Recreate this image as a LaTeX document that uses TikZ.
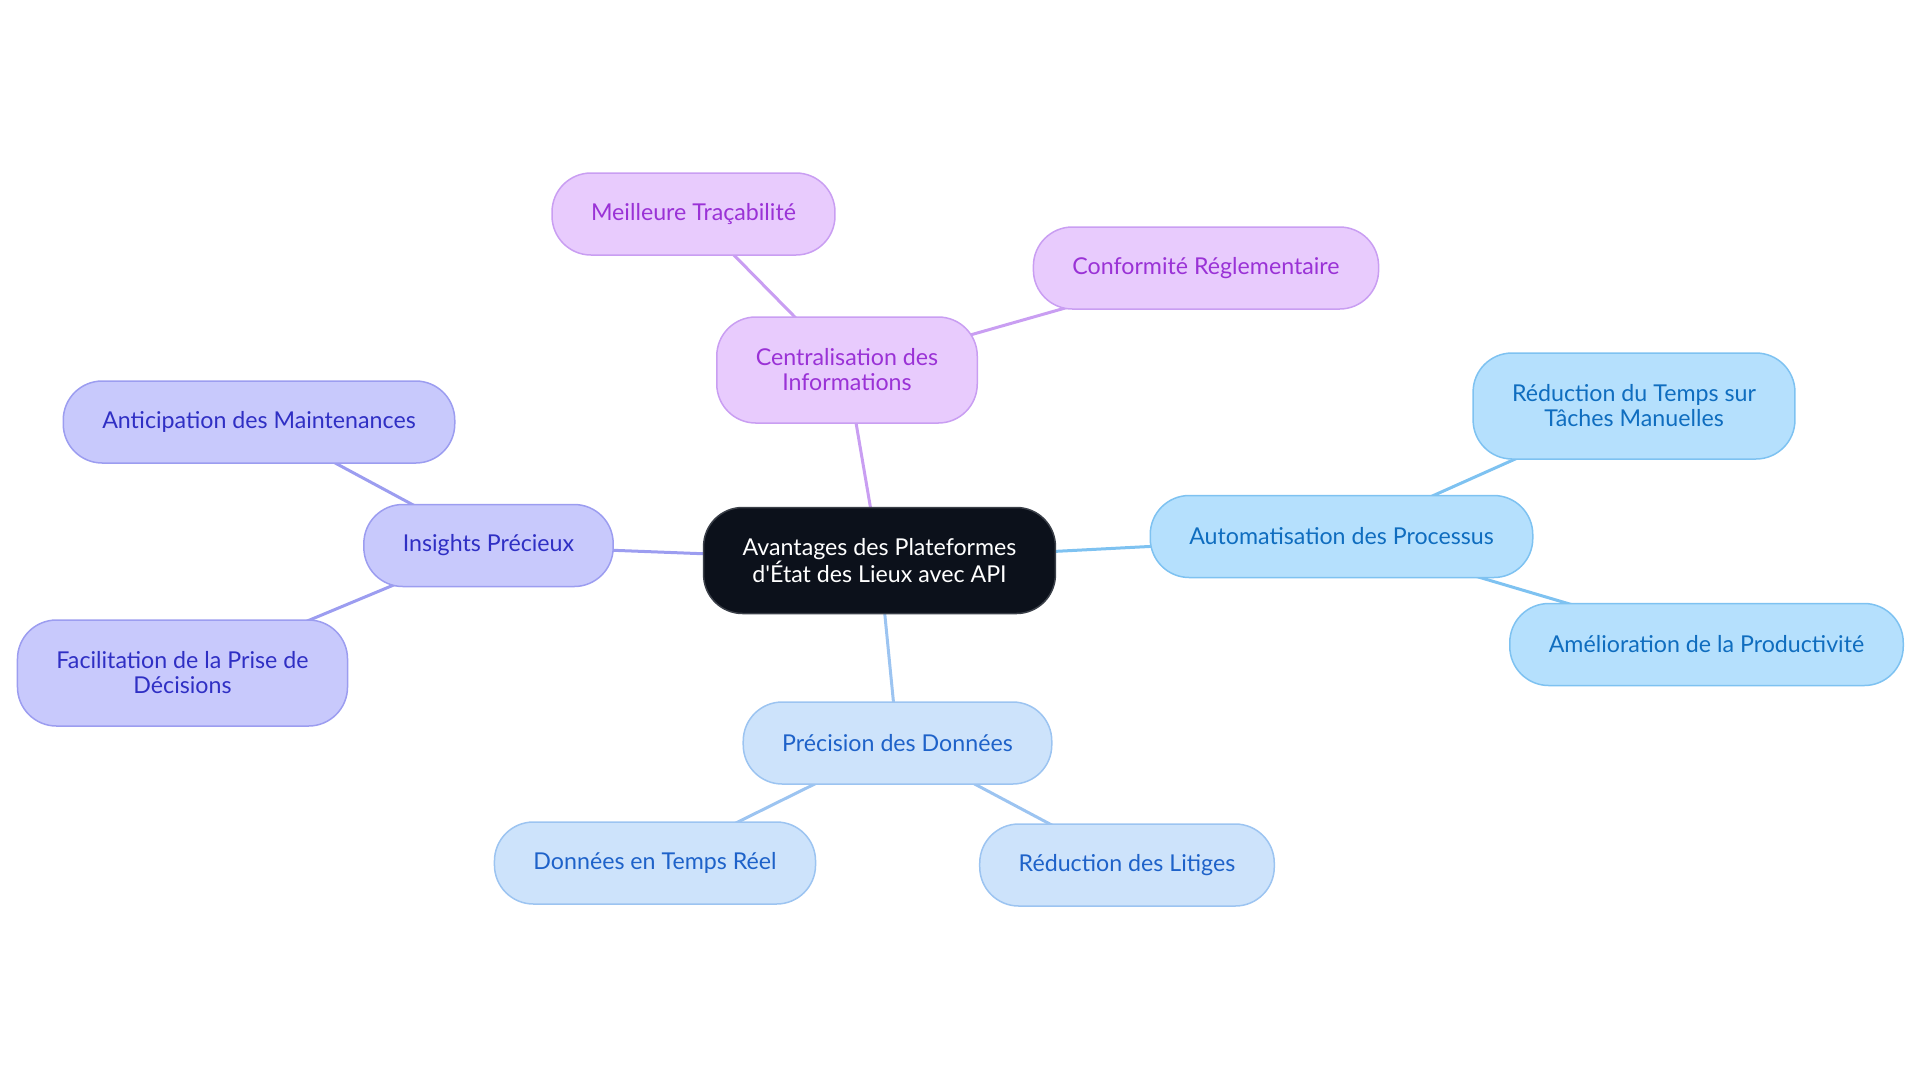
\documentclass[tikz,border=0pt]{standalone}
\usepackage{fontspec}
\setmainfont{Lato}
\usetikzlibrary{backgrounds}
\definecolor{mapcore}{HTML}{0C111B}
\definecolor{mapcoreline}{HTML}{3A3F48}
\definecolor{violetfill}{HTML}{E8CBFD}
\definecolor{violetline}{HTML}{C99EF2}
\definecolor{violetink}{HTML}{9A32D6}
\definecolor{indigofill}{HTML}{C8C9FC}
\definecolor{indigoline}{HTML}{9C9DF0}
\definecolor{indigoink}{HTML}{2F2FC4}
\definecolor{skyfill}{HTML}{B5E0FD}
\definecolor{skyline}{HTML}{7EC2F1}
\definecolor{skyink}{HTML}{0F6DBF}
\definecolor{bluefill}{HTML}{CDE3FB}
\definecolor{blueline}{HTML}{9CC4F1}
\definecolor{blueink}{HTML}{1E62C9}

\begin{document}
\begin{tikzpicture}[
  x=0.5pt,
  y=-0.5pt,
  every node/.style={font=\fontsize{11.6pt}{12.5pt}\selectfont},
  mapbox/.style={draw, rounded corners=19.5pt, line width=0.75pt, align=center,
    inner xsep=19.5pt, inner ysep=0pt, minimum height=41pt},
  twoline/.style={minimum height=53pt},
  corebox/.style={mapbox, twoline, fill=mapcore, draw=mapcoreline, text=white},
  violetbox/.style={mapbox, fill=violetfill, draw=violetline, text=violetink},
  indigobox/.style={mapbox, fill=indigofill, draw=indigoline, text=indigoink},
  skybox/.style={mapbox, fill=skyfill, draw=skyline, text=skyink},
  bluebox/.style={mapbox, fill=bluefill, draw=blueline, text=blueink},
  link/.style={line width=1.5pt}
]
  \useasboundingbox (0,0) rectangle (1920,1083);

  % centre
  \node[corebox] (core) at (879.5,560.5) {Avantages des Plateformes\\d\textquotesingle État des Lieux avec API};

  % branches
  \node[violetbox, twoline] (central) at (847,370) {Centralisation des\\Informations};
  \node[violetbox] (traca) at (693.5,214) {Meilleure Traçabilité};
  \node[violetbox] (conform) at (1206,268) {Conformité Réglementaire};

  \node[indigobox] (insights) at (488.5,545.5) {Insights Précieux};
  \node[indigobox] (anticip) at (259,422) {Anticipation des Maintenances};
  \node[indigobox, twoline] (decision) at (182.5,673) {Facilitation de la Prise de\\Décisions};

  \node[skybox] (auto) at (1341.5,536.5) {Automatisation des Processus};
  \node[skybox, twoline] (temps) at (1634,406) {Réduction du Temps sur\\Tâches Manuelles};
  \node[skybox] (produc) at (1706.5,644.5) {Amélioration de la Productivité};

  \node[bluebox] (precis) at (897.5,743) {Précision des Données};
  \node[bluebox] (reel) at (655,863) {Données en Temps Réel};
  \node[bluebox] (litige) at (1127,865) {Réduction des Litiges};

  \begin{scope}[on background layer]
    \draw[link, violetline] (core.center) -- (central.center);
    \draw[link, violetline] (central.center) -- (traca.center);
    \draw[link, violetline] (central.center) -- (conform.center);
    \draw[link, indigoline] (core.center) -- (insights.center);
    \draw[link, indigoline] (insights.center) -- (anticip.center);
    \draw[link, indigoline] (insights.center) -- (decision.center);
    \draw[link, skyline] (core.center) -- (auto.center);
    \draw[link, skyline] (auto.center) -- (temps.center);
    \draw[link, skyline] (auto.center) -- (produc.center);
    \draw[link, blueline] (core.center) -- (precis.center);
    \draw[link, blueline] (precis.center) -- (reel.center);
    \draw[link, blueline] (precis.center) -- (litige.center);
  \end{scope}
\end{tikzpicture}
\end{document}
